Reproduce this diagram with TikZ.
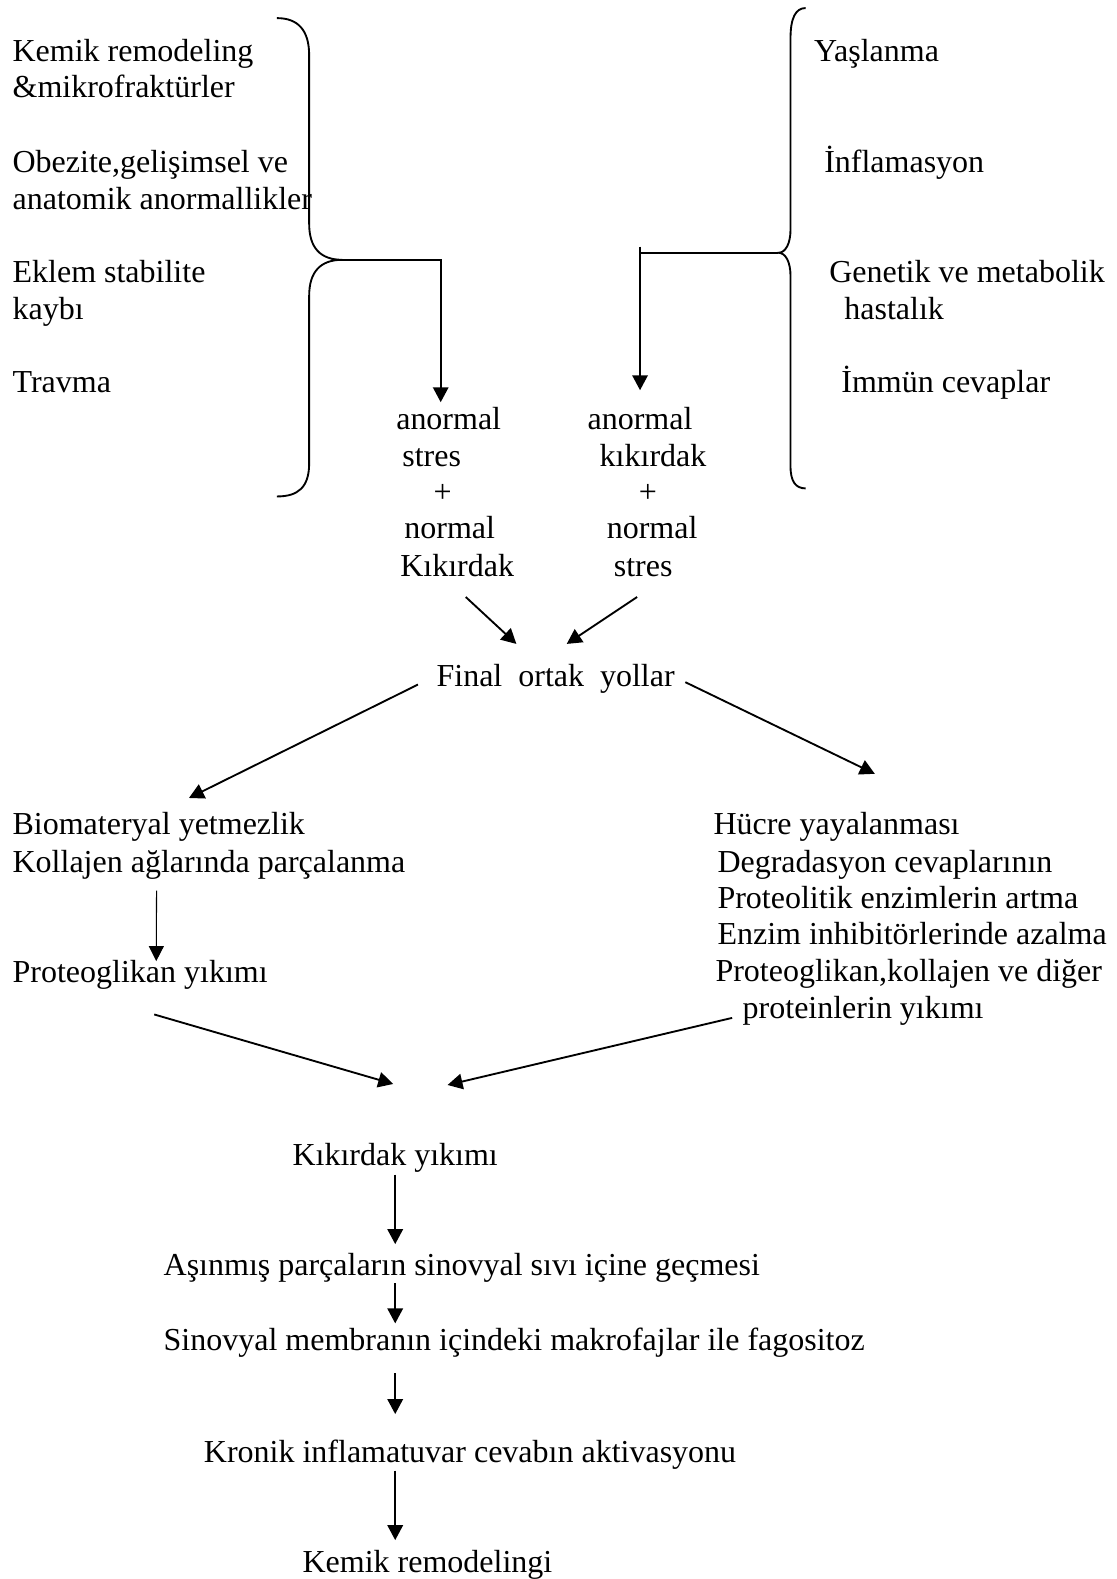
\documentclass[tikz,border=0pt]{standalone}
\usepackage{fontspec}
\setmainfont{Liberation Serif}
\usetikzlibrary{arrows.meta}
\tikzset{
  txt/.style={anchor=base west, inner sep=0pt},
  arr/.style={line width=0.7pt, -{Triangle[length=5.6pt,width=5.8pt]}},
  thinarr/.style={line width=0.4pt, -{Triangle[length=5.6pt,width=5.6pt]}},
  brace/.style={line width=0.7pt}
}

\begin{document}
\begin{tikzpicture}[x=0.3777pt, y=-0.3777pt, font=\fontsize{12}{13.8}\selectfont]
\useasboundingbox (0,0) rectangle (1109,1568);

\node [txt] (k1) at (12,61) {Kemik remodeling};
\node [txt] (k2) at (12,97) {\&mikrofraktürler};
\node [txt] (o1) at (12,171) {Obezite,gelişimsel ve};
\node [txt] (o2) at (12,208) {anatomik anormallikler};
\node [txt] (e1) at (12,281) {Eklem stabilite};
\node [txt] (e2) at (12,317) {kaybı};
\node [txt] (tr) at (12,390) {Travma};

\node [txt] (ya) at (808,61) {Yaşlanma};
\node [txt] (in) at (818,171) {İnflamasyon};
\node [txt] (ge1) at (823,281) {Genetik ve metabolik};
\node [txt] (ge2) at (838,317) {hastalık};
\node [txt] (im) at (835,390) {İmmün cevaplar};

\draw [brace] (275,18) .. controls (296,18) and (307,30) .. (307,55) -- (307,222)
  .. controls (307,246) and (318,258) .. (340,258) coordinate (lb)
  .. controls (318,258) and (307,270) .. (307,294) -- (307,460)
  .. controls (307,484) and (296,493) .. (275,493);
\draw [brace] (800,8) .. controls (790,8) and (785,18) .. (785,38) -- (785,228)
  .. controls (785,242) and (780,251) .. (773,251) coordinate (rb)
  .. controls (780,251) and (785,260) .. (785,274) -- (785,463)
  .. controls (785,478) and (790,485) .. (800,485);

\node [txt] (as1) at (393,427) {anormal};
\node [txt] (as2) at (399,463) {stres};
\node [txt] (as3) at (430,499) {+};
\node [txt] (as4) at (401,535) {normal};
\node [txt] (as5) at (397,572) {Kıkırdak};

\node [txt] (ak1) at (583,427) {anormal};
\node [txt] (ak2) at (595,463) {kıkırdak};
\node [txt] (ak3) at (634,499) {+};
\node [txt] (ak4) at (602,535) {normal};
\node [txt] (ak5) at (609,572) {stres};

\draw [arr, shorten >=1.9pt] (lb) -| ([xshift=-3pt]as1.north);
\draw [brace] (rb) -- (rb -| ak1.north);
\draw [arr, shorten >=6.4pt] ([shift={(0,-6)}]rb -| ak1.north) -- (ak1.north);

\node [txt] (fin) at (433,682) {Final\ \ ortak\ \ yollar};
\draw [arr] ([shift={(8.5,20)}]as5.south) -- ([shift={(-39,-20)}]fin.north);
\draw [arr] ([shift={(-6,20)}]ak5.south) -- ([shift={(11,-20)}]fin.north);

\node [txt] (bm) at (12,829) {Biomateryal yetmezlik};
\node [txt] (kl) at (12,866) {Kollajen ağlarında parçalanma};
\node [txt] (pg) at (12,976) {Proteoglikan yıkımı};

\node [txt] (hy) at (708,829) {Hücre yayalanması};
\node [txt] (dg) at (712,866) {Degradasyon cevaplarının};
\node [txt] (pe) at (712,902) {Proteolitik enzimlerin artma};
\node [txt] (en) at (712,938) {Enzim inhibitörlerinde azalma};
\node [txt] (pk) at (710,975) {Proteoglikan,kollajen ve diğer};
\node [txt] (pr) at (737,1011) {proteinlerin yıkımı};

\draw [arr] ([shift={(-18,5.4)}]fin.west) -- ([shift={(30,-14)}]bm.north);
\draw [arr] ([shift={(10,3)}]fin.east) -- ([shift={(38,-38)}]hy.north);
\draw [thinarr] ([shift={(-52,11)}]kl.south) -- ([shift={(16,1)}]pg.north);

\node [txt] (ky) at (290,1157) {Kıkırdak yıkımı};
\draw [arr] ([shift={(14,24)}]pg.south) -- ([shift={(-2,-58)}]ky.north);
\draw [arr] ([shift={(-10,7.4)}]pr.west) -- ([shift={(52,-57)}]ky.north);

\node [txt] (as) at (162,1267) {Aşınmış parçaların sinovyal sıvı içine geçmesi};
\node [txt] (sm) at (162,1341) {Sinovyal membranın içindeki makrofajlar ile fagositoz};
\node [txt] (kr) at (202,1452) {Kronik inflamatuvar cevabın aktivasyonu};
\node [txt] (kmr) at (300,1562) {Kemik remodelingi};

\draw [arr, shorten <=0.75pt, shorten >=3.4pt] (ky.south) -- (ky.south |- as.north);
\draw [arr, shorten >=1.5pt] (ky.south |- as.south) -- (ky.south |- sm.north);
\draw [arr, shorten <=5.7pt, shorten >=9.4pt] (ky.south |- sm.south) -- (ky.south |- kr.north);
\draw [arr, shorten <=0.4pt, shorten >=3.8pt] (ky.south |- kr.south) -- (ky.south |- kmr.north);
\end{tikzpicture}
\end{document}
